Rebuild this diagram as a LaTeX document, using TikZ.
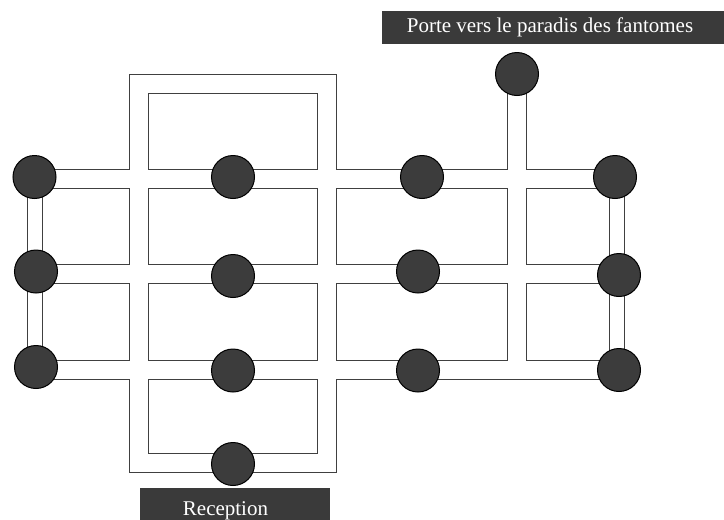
\documentclass[tikz,border=0pt]{standalone}
\usepackage{fontspec}
\setmainfont{Liberation Serif}
\definecolor{linec}{HTML}{404040}
\definecolor{nodec}{HTML}{3C3C3C}
\definecolor{boxc}{HTML}{3A3A3A}
\newcommand\mazecorridors{%
  \draw[wide] (ja1) -- (je1);
  \draw[wide] (ja2) -- (je2);
  \draw[wide] (ja3) -- (je3);
  \draw[wide, line join=miter] (jbt) -- (jct) -- (jcb) -- (jbb) -- cycle;
  \draw[wide] (jdt) -- (jd3);
  \draw[narrow] (ja1) -- (ja3);
  \draw[narrow] (je1) -- (je3);
}
\begin{document}
\begin{tikzpicture}[x=1pt,y=-1pt,
  room/.style={circle, minimum size=43pt, inner sep=0pt, fill=nodec, draw=black, line width=1pt},
  boxlabel/.style={fill=boxc, inner sep=0pt},
  boxtext/.style={text=white, inner sep=0pt, font=\fontsize{21}{24}\selectfont}]
\useasboundingbox (0,0) rectangle (724,520);
% junction coordinates
\coordinate (ja1) at (34.5,179);
\coordinate (ja2) at (34.5,273.5);
\coordinate (ja3) at (34.5,370);
\coordinate (je1) at (617,179);
\coordinate (je2) at (617,273.5);
\coordinate (je3) at (617,370);
\coordinate (jbt) at (139,84);
\coordinate (jct) at (327,84);
\coordinate (jcb) at (327,463);
\coordinate (jbb) at (139,463);
\coordinate (jdt) at (517,74);
\coordinate (jd3) at (517,370);
% corridors: outlines then white floors
\begin{scope}[wide/.style={line width=20pt, draw=linec}, narrow/.style={line width=16pt, draw=linec}]
  \mazecorridors
\end{scope}
\begin{scope}[wide/.style={line width=18pt, draw=white}, narrow/.style={line width=14pt, draw=white}]
  \mazecorridors
\end{scope}
% rooms
\node[room] (L1) at (34.5,177) {};
\node[room] (L2) at (36,271.5) {};
\node[room] (L3) at (36,367) {};
\node[room] (M1) at (233,177) {};
\node[room] (M2) at (233,276) {};
\node[room] (M3) at (233,370.5) {};
\node[room] (MB) at (233,464) {};
\node[room] (R1) at (422,177) {};
\node[room] (R2) at (418,271.5) {};
\node[room] (R3) at (418,370.5) {};
\node[room] (T) at (517,74) {};
\node[room] (E1) at (615,177) {};
\node[room] (E2) at (619,275) {};
\node[room] (E3) at (619,370) {};
% labels
\node[boxlabel, minimum width=341.7pt, minimum height=33.6pt] (porte) at (553.15,27.5) {};
\node[boxtext] (portetxt) at (550,27.5) {Porte vers le paradis des fantomes};
\node[boxlabel, minimum width=190.7pt, minimum height=33pt, anchor=north west] (recep) at (139.3,487.3) {};
\node[boxtext, anchor=base] (receptxt) at (225.5,515) {Reception};
\end{tikzpicture}
\end{document}
